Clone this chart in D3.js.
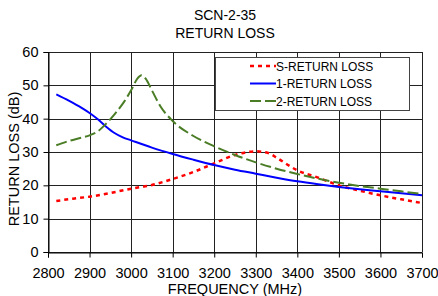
<!DOCTYPE html>
<html>
<head>
<meta charset="utf-8">
<script src="https://cdn.jsdelivr.net/npm/d3@7"></script>
<style>
  body { margin: 0; background: #fff; }
  svg text { font-family: "Liberation Sans", Arial, sans-serif; fill: #000; }
</style>
</head>
<body>
<svg id="chart" width="438" height="296"></svg>
<script>
'use strict';

const xTicks = [2800, 2900, 3000, 3100, 3200, 3300, 3400, 3500, 3600, 3700];
const yTicks = [0, 10, 20, 30, 40, 50, 60];

const sFreq = [2820, 2860, 2900, 2950, 3000, 3050, 3100, 3150, 3200, 3250, 3300, 3330, 3350, 3400, 3450, 3500, 3550, 3600, 3650, 3700];
const sLoss = [15.3, 16, 16.6, 17.7, 19, 20.1, 21.9, 24, 26.6, 29.1, 30.2, 29.7, 28.3, 24.5, 22.3, 20, 18.4, 17, 15.8, 14.7];

const oneFreq = [2820, 2850, 2880, 2900, 2920, 2940, 2960, 2980, 3000, 3050, 3100, 3150, 3200, 3250, 3300, 3350, 3400, 3450, 3500, 3550, 3600, 3650, 3700];
const oneLoss = [47.3, 45.4, 43.3, 41.7, 39.8, 37.6, 35.7, 34.4, 33.5, 31.3, 29.4, 27.7, 26.1, 24.7, 23.5, 22.3, 21.2, 20.3, 19.5, 18.8, 18.2, 17.6, 17];

const twoFreq = [2820, 2850, 2880, 2900, 2920, 2940, 2960, 2980, 3000, 3015, 3025, 3035, 3050, 3070, 3100, 3150, 3200, 3250, 3300, 3350, 3400, 3450, 3500, 3550, 3600, 3650, 3700];
const twoLoss = [32, 33.3, 34.3, 35, 36.2, 38.5, 41.3, 44.5, 48.5, 52, 53, 52, 48.5, 43.8, 39.3, 34.8, 31.7, 29.1, 26.9, 25, 23.4, 22, 20.8, 19.8, 19, 18.2, 17.4];

const seriesNames = ['S-RETURN LOSS', '1-RETURN LOSS', '2-RETURN LOSS'];

var margin = {top: 52, right: 16, bottom: 44, left: 48},
    width = 438 - margin.left - margin.right,
    height = 296 - margin.top - margin.bottom;

var svg = d3.select('#chart');

var x = d3.scaleLinear().domain([2800, 3700]).range([0, width]);
var y = d3.scaleLinear().domain([0, 60]).range([height, 0]);

var chart = svg.append('g')
    .attr('transform', 'translate(' + margin.left + ',' + margin.top + ')');

// Title
svg.append('text').attr('x', 225).attr('y', 20).attr('text-anchor', 'middle')
    .style('font-size', '14px').text('SCN-2-35');
svg.append('text').attr('x', 225).attr('y', 38).attr('text-anchor', 'middle')
    .style('font-size', '14px').text('RETURN LOSS');

// Grid
chart.append('g').selectAll('line.vg')
    .data(xTicks).enter().append('line')
    .attr('x1', d => Math.round(x(d)) + 0.5).attr('x2', d => Math.round(x(d)) + 0.5)
    .attr('y1', 0).attr('y2', height)
    .attr('stroke', '#222').attr('stroke-width', 1);
chart.append('g').selectAll('line.hg')
    .data(yTicks).enter().append('line')
    .attr('x1', 0).attr('x2', width)
    .attr('y1', d => Math.round(y(d)) + 0.5).attr('y2', d => Math.round(y(d)) + 0.5)
    .attr('stroke', '#222').attr('stroke-width', 1);

// X Axis
var xAxis = chart.append('g')
    .attr('transform', 'translate(0,' + (Math.round(height) + 0.5) + ')')
    .call(d3.axisBottom(x).tickValues(xTicks).tickSize(5).tickPadding(10).tickFormat(d3.format('d')));
xAxis.selectAll('text').style('font-size', '14.5px');

// Y Axis
var yAxis = chart.append('g')
    .attr('transform', 'translate(0.5,0)')
    .call(d3.axisLeft(y).tickValues(yTicks).tickSize(5).tickPadding(5));
yAxis.selectAll('text').style('font-size', '14.5px');
chart.selectAll('.domain').attr('stroke', '#000');

svg.append('text')
    .attr('x', margin.left + width / 2).attr('y', 294)
    .attr('text-anchor', 'middle').style('font-size', '14.5px')
    .text('FREQUENCY (MHz)');
svg.append('text')
    .attr('transform', 'translate(19,159) rotate(-90)')
    .attr('text-anchor', 'middle').style('font-size', '14.5px')
    .text('RETURN LOSS (dB)');

// Lines
var series = [
    {freq: sFreq, loss: sLoss, color: '#ff0000', dash: '4,4', w: 2.5},
    {freq: oneFreq, loss: oneLoss, color: '#0000ff', dash: null, w: 2},
    {freq: twoFreq, loss: twoLoss, color: '#4a7d25', dash: '11,4', w: 2}
];

var line = d3.line()
    .x(d => x(d[0])).y(d => y(d[1]))
    .curve(d3.curveMonotoneX);

series.forEach(function(s) {
    chart.append('path')
        .datum(s.freq.map((f, i) => [f, s.loss[i]]))
        .attr('fill', 'none')
        .attr('stroke', s.color)
        .attr('stroke-width', s.w)
        .attr('stroke-dasharray', s.dash)
        .attr('d', line);
});

// Legend
var legend = svg.append('g').attr('transform', 'translate(215,57)');
legend.append('rect')
    .attr('x', 0.5).attr('y', 0.5).attr('width', 194).attr('height', 53)
    .attr('fill', '#fff').attr('stroke', '#444').attr('stroke-width', 1);
seriesNames.forEach(function(name, i) {
    var s = series[i];
    var ly = 9 + i * 17.5;
    legend.append('line')
        .attr('x1', 35).attr('x2', 61).attr('y1', ly).attr('y2', ly)
        .attr('stroke', s.color).attr('stroke-width', s.w)
        .attr('stroke-dasharray', s.dash);
    legend.append('text')
        .attr('x', 61).attr('y', ly + 4.5)
        .style('font-size', '12px')
        .text(name);
});
</script>
</body>
</html>
